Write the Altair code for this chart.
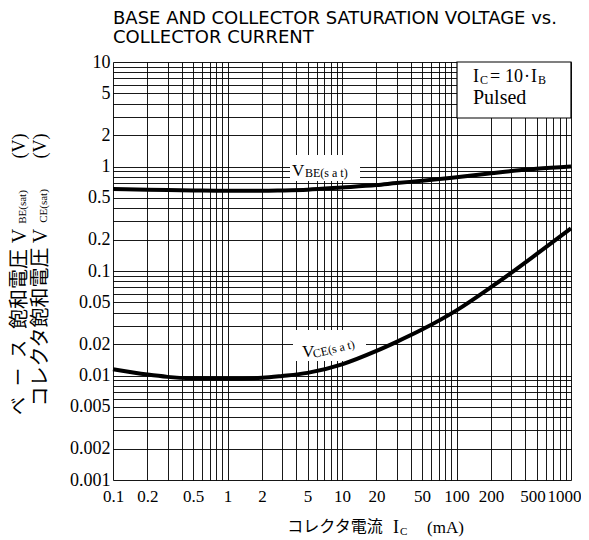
import altair as alt
import pandas as pd

# ---------------- data ----------------
ic_ma = [0.1, 0.2, 0.3, 0.5, 1, 2, 3, 5, 10, 20, 30, 50, 100, 200, 300, 500, 1000]
vbe_sat = [0.61, 0.60, 0.595, 0.59, 0.585, 0.585, 0.59, 0.60, 0.63, 0.665, 0.695, 0.73, 0.79, 0.86, 0.905, 0.95, 1.0]
vce_sat = [0.0115, 0.0102, 0.0097, 0.0094, 0.0093, 0.0095, 0.0099, 0.0106, 0.0128, 0.0172, 0.021, 0.0275, 0.042, 0.070, 0.096, 0.145, 0.256]

x_labels = [0.1, 0.2, 0.5, 1, 2, 5, 10, 20, 50, 100, 200, 500, 1000]
y_labels = [0.001, 0.002, 0.005, 0.01, 0.02, 0.05, 0.1, 0.2, 0.5, 1, 2, 5, 10]
x_decades = [-1, 0, 1, 2]
y_decades = [-3, -2, -1, 0]

title_lines = ["BASE AND COLLECTOR SATURATION VOLTAGE vs.", "COLLECTOR CURRENT"]

# ---------------- helpers ----------------
def grid_values(decades):
    vals = []
    for e in decades:
        for m in range(1, 10):
            vals.append(round(m * 10.0 ** e, 6))
    vals.append(round(10.0 ** (decades[-1] + 1), 6))
    return vals

x_grid = grid_values(x_decades)
y_grid = grid_values(y_decades)

def label_expr(labels):
    arr = ",".join(repr(float(v)) for v in labels)
    return f"indexof([{arr}], datum.value) >= 0 ? format(datum.value, '~g') : ''"

W, H = 458, 418
OX, OY = 113, 62  # plot origin on the page

SERIF = "Liberation Serif"
JP = "Noto Sans CJK JP"

def txt(text, ax, ay, size, font=SERIF, align="left", baseline="alphabetic", angle=0, weight="normal"):
    return alt.Chart(pd.DataFrame({"t": [text]})).mark_text(
        align=align, baseline=baseline, font=font, fontSize=size, angle=angle,
        fontWeight=weight, color="black"
    ).encode(x=alt.value(ax - OX), y=alt.value(ay - OY), text="t:N")

def box(x1, y1, x2, y2, stroke=None):
    kw = dict(fill="white")
    if stroke:
        kw.update(stroke=stroke, strokeWidth=1.2)
    return alt.Chart(pd.DataFrame({"a": [0]})).mark_rect(**kw).encode(
        x=alt.value(x1 - OX), x2=alt.value(x2 - OX), y=alt.value(y1 - OY), y2=alt.value(y2 - OY)
    )

# ---------------- curves ----------------
df = pd.DataFrame({
    "ic": ic_ma * 2,
    "v": vbe_sat + vce_sat,
    "s": ["VBE"] * len(ic_ma) + ["VCE"] * len(ic_ma),
})

xscale = alt.Scale(type="log", domain=[0.1, 1000], nice=False)
yscale = alt.Scale(type="log", domain=[0.001, 10], nice=False)

axis_common = dict(
    grid=True, gridColor="black", gridWidth=1, gridOpacity=0.9,
    ticks=False, domain=False, title=None,
    labelFont=SERIF, labelColor="black",
    labelFlush=False, labelOverlap=False, labelBound=False,
)

x_offset = {"condition": [
    {"test": "datum.value >= 1000", "value": -7},
    {"test": "datum.value == 500", "value": -4},
], "value": 0}

lines = alt.Chart(df).mark_line(color="black", strokeWidth=4, interpolate="monotone").encode(
    x=alt.X("ic:Q", scale=xscale,
            axis=alt.Axis(values=x_grid, labelExpr=label_expr(x_labels), labelPadding=8,
                          labelFontSize=17, labelOffset=x_offset, **axis_common)),
    y=alt.Y("v:Q", scale=yscale,
            axis=alt.Axis(values=y_grid, labelExpr=label_expr(y_labels), labelPadding=3,
                          labelFontSize=18, **axis_common)),
    detail="s:N",
)

layers = [
    box(290, 155, 360, 181),
    box(293, 330, 366, 361),
    box(457, 62, 571, 118, stroke="black"),
    lines,
    # curve labels
    txt("V", 292, 176, 17),
    txt("BE(s a t)", 305, 177, 12),
    txt("V", 302, 357, 17),
    txt("CE(s a t)", 314, 358, 12, angle=346),
    # condition box
    txt("I", 473, 82, 18),
    txt("C", 480, 84, 12),
    txt("=", 490, 82, 18),
    txt("10", 505, 82, 18),
    txt("·", 524, 82, 18),
    txt("I", 531, 82, 18),
    txt("B", 538, 84, 12),
    txt("Pulsed", 473, 104, 20),
    # title
    txt(title_lines[0], 113, 24, 18, font="DejaVu Sans"),
    txt(title_lines[1], 113, 43, 18, font="DejaVu Sans"),
    # x axis title
    txt("コレクタ電流", 335, 527, 16, font=JP, align="center", baseline="middle"),
    txt("I", 393, 533, 18),
    txt("C", 400, 535, 11),
    txt("(mA)", 427, 533, 17),
    # y axis title, line 1
    txt("ベ", 20, 406, 18, font=JP, align="center", baseline="middle", angle=270),
    txt("ー", 20, 377, 18, font=JP, align="center", baseline="middle", angle=270),
    txt("ス", 20, 349, 18, font=JP, align="center", baseline="middle", angle=270),
    txt("飽和電圧", 20, 289, 20, font=JP, align="center", baseline="middle", angle=270),
    txt("V", 20, 236, 20, align="center", baseline="middle", angle=270),
    txt("BE(sat)", 23, 207, 11, align="center", baseline="middle", angle=270),
    txt("(V)", 20, 146, 18, align="center", baseline="middle", angle=270),
    # y axis title, line 2
    txt("コレクタ飽和電圧", 41, 327, 20, font=JP, align="center", baseline="middle", angle=270),
    txt("V", 41, 236, 20, align="center", baseline="middle", angle=270),
    txt("CE(sat)", 44, 206, 11, align="center", baseline="middle", angle=270),
    txt("(V)", 41, 146, 18, align="center", baseline="middle", angle=270),
]

chart = alt.layer(*layers).properties(
    width=W, height=H,
    autosize=alt.AutoSizeParams(type="none"),
    padding={"left": OX - 8, "top": OY - 8, "right": 10, "bottom": 60},
).configure_view(stroke="black", strokeWidth=1.5).configure(background="white")

chart.save("out.html", embed_options={"renderer": "svg", "actions": False})
